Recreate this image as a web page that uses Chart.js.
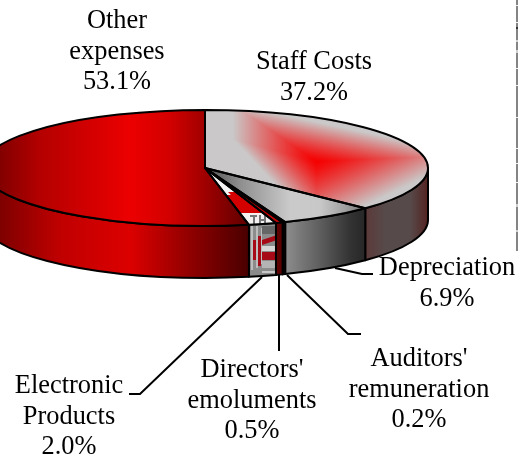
<!DOCTYPE html>
<html><head><meta charset="utf-8">
<style>html,body{margin:0;padding:0;background:#fff;overflow:hidden}canvas{display:block}</style>
<script src="https://cdn.jsdelivr.net/npm/chart.js@4"></script>
</head><body><canvas id="c" width="518" height="457"></canvas>
<script>
// ---- data ----
const categories = ["Staff Costs","Depreciation","Auditors' remuneration","Directors' emoluments","Electronic Products","Other expenses"];
const shares = [37.2,6.9,0.2,0.5,2.0,53.1];

// ---- geometry of the tilted pie ----
const W=518,H=457,CX=205,CY=168,RX=223,RY=58,DEPTH=52;
const K=RY/RX;

// ---- label layout, same order as categories ----
const labelLines=[["Staff Costs"],["Depreciation"],["Auditors'","remuneration"],["Directors'","emoluments"],["Electronic","Products"],["Other","expenses"]];
const labelX=[314,447,419,252,69,117];
const labelY=[69,275,366,377,393,28];
const leaders=[null,
 [[335,268],[362,274],[373,274]],
 [[287,275],[348,334],[361,334]],
 [[279,275],[279,351]],
 [[262,277],[140,394],[129,394]],
 null];

const canvas=document.getElementById('c');
const ctx=canvas.getContext('2d');

function hGrad(stops){
  const xs=stops.map(s=>s[0]);const x0=xs[0],x1=xs[xs.length-1];
  const g=ctx.createLinearGradient(x0,0,x1,0);
  stops.forEach(s=>g.addColorStop((s[0]-x0)/(x1-x0),s[1]));
  return g;
}
function screenPattern(cv){
  return ctx.createPattern(cv,'no-repeat');
}
function squashPattern(cv){
  // the faces are filled under the squash, so undo it to keep the texture in page pixels
  const p=ctx.createPattern(cv,'no-repeat');
  p.setTransform(new DOMMatrix([1,0,0,1/K,0,CY-CY/K]));
  return p;
}
function staffTexture(){
  const cv=document.createElement('canvas');cv.width=W;cv.height=H;
  const c=cv.getContext('2d');const im=c.createImageData(W,H);
  const P=[316,161],A=[186,92],B=[480,154],D=[316,232];
  const edges=[[A,B],[B,D],[D,A]].map(([u,v])=>{
    let nx=v[1]-u[1],ny=u[0]-v[0];const L=Math.hypot(nx,ny);nx/=L;ny/=L;
    let d=(u[0]-P[0])*nx+(u[1]-P[1])*ny;
    if(d<0){nx=-nx;ny=-ny;d=-d;}
    return [nx,ny,d];
  });
  for(let y=0;y<H;y++)for(let x=0;x<W;x++){
    let t=(P[0]-x)/88;
    for(const e of edges){t=Math.max(t,((x-P[0])*e[0]+(y-P[1])*e[1])/e[2]);}
    t=Math.min(1,Math.max(0,t/0.95));
    t=Math.pow(t,1.2);
    const i=(y*W+x)*4;
    im.data[i]=246+(202-246)*t;im.data[i+1]=0+200*t;im.data[i+2]=0+200*t;im.data[i+3]=255;
  }
  c.putImageData(im,0,0);return cv;
}
function electronicTexture(){
  const cv=document.createElement('canvas');cv.width=W;cv.height=H;
  const c=cv.getContext('2d');
  // top face
  c.fillStyle='#8a0000';c.fillRect(200,160,90,35);
  c.fillStyle='#f4f4f4';c.fillRect(205,172,40,23);
  c.strokeStyle='#b0b0b0';c.lineWidth=5;c.beginPath();c.moveTo(228,200);c.lineTo(244,186);c.stroke();
  c.fillStyle='#d40000';c.fillRect(220,195,70,18);
  c.fillStyle='#d40000';c.beginPath();c.moveTo(228,192);c.lineTo(260,192);c.lineTo(260,200);c.lineTo(236,200);c.fill();
  c.fillStyle='#f4f0f0';c.fillRect(235,213,50,13);
  c.fillStyle='#777';
  [[250,215,7,2],[253,215,2,9],[259,215,2,9],[264,215,2,9],[259,219,7,2],[268,216,6,2]].forEach(r=>c.fillRect(...r));
  // side wall
  c.fillStyle='#8c8c8c';c.fillRect(245,224,35,56);
  c.fillStyle='#bdbdbd';c.fillRect(251,226,2,46);c.fillRect(256,226,2,42);c.fillRect(261,228,1,36);
  c.fillStyle='#d6d6d6';c.fillRect(262,246,15,5);
  c.fillStyle='#a60a16';c.fillRect(253,240,3,20);c.fillRect(258,236,3,30);c.fillRect(262,252,15,8);
  c.beginPath();c.moveTo(262,240);c.lineTo(277,235);c.lineTo(277,240);c.lineTo(262,245);c.fill();
  c.fillStyle='#666';c.fillRect(262,226,14,8);
  c.fillStyle='#b4b4b4';c.fillRect(262,261,14,7);
  c.fillStyle='#8a8a8a';c.fillRect(250,270,26,8);
  c.fillStyle='#c8c8c8';c.fillRect(262,271,14,2);
  return cv;
}
const eTex=electronicTexture();
const faceFills=[
  squashPattern(staffTexture()),
  hGrad([[205,'#505050'],[240,'#8e8e8e'],[290,'#cacaca'],[320,'#c8c8c8'],[345,'#a0a0a0'],[367,'#707070']]),
  '#5a0000',
  '#c20000',
  squashPattern(eTex),
  hGrad([[-18,'#6c0000'],[40,'#b40000'],[130,'#ec0000'],[170,'#d20000'],[205,'#a00000'],[250,'#5c0000']])
];
const wallFills=[
  hGrad([[366,'#5c3a3a'],[385,'#574a4a'],[410,'#574a4a'],[429,'#552020']]),
  hGrad([[286,'#8c8c8c'],[320,'#5e5e5e'],[350,'#333333'],[366,'#262626']]),
  '#0a0000',
  '#5c0000',
  screenPattern(eTex),
  hGrad([[-18,'#6a0000'],[60,'#c00000'],[130,'#dc0000'],[190,'#900000'],[250,'#480000']])
];

const tiltedPie={
  id:'tiltedPie',
  beforeDatasetsDraw(chart){
    const c=chart.ctx,arcs=chart.getDatasetMeta(0).data;
    c.save();c.lineWidth=2;c.strokeStyle='#000';c.lineJoin='round';
    arcs.forEach((a,i)=>{
      const s=Math.max(a.startAngle,0),e=Math.min(a.endAngle,Math.PI);
      if(e<=s)return;
      const rx=a.outerRadius,ry=rx*K;
      c.beginPath();
      c.ellipse(a.x,a.y,rx,ry,0,s,e);
      c.ellipse(a.x,a.y+DEPTH,rx,ry,0,e,s,true);
      c.closePath();
      c.fillStyle=wallFills[i];c.fill();c.stroke();
    });
    c.restore();
    const a0=arcs[0];
    c.save();
    c.translate(0,a0.y);c.scale(1,K);c.translate(0,-a0.y);
  },
  afterDatasetsDraw(chart){
    const c=chart.ctx,arcs=chart.getDatasetMeta(0).data;
    c.restore();
    c.save();c.lineWidth=2;c.strokeStyle='#000';c.lineJoin='round';
    arcs.forEach(a=>{
      c.beginPath();c.moveTo(a.x,a.y);
      c.ellipse(a.x,a.y,a.outerRadius,a.outerRadius*K,0,a.startAngle,a.endAngle);
      c.closePath();c.stroke();
    });
    c.restore();
  },
  afterDraw(chart){
    const c=chart.ctx;
    c.save();
    // page edge rule at the far right
    c.fillStyle='#848484';c.fillRect(516,0,2,251);
    c.fillStyle='#f2f2f2';
    [5,22,68,85,117,148,163,182].forEach(y=>c.fillRect(516,y,2,1));
    c.fillStyle='#d0d0d0';[40,41,50,51,52,204,205,206,230,231].forEach(y=>c.fillRect(516,y,2,1));
    c.fillStyle='#333';c.fillRect(516,27,2,2);
    // leader lines
    c.strokeStyle='#000';c.lineWidth=2;c.lineJoin='miter';
    leaders.forEach(l=>{
      if(!l)return;
      c.beginPath();l.forEach((p,i)=>i?c.lineTo(p[0],p[1]):c.moveTo(p[0],p[1]));c.stroke();
    });
    // labels
    c.fillStyle='#000';c.textAlign='center';c.textBaseline='alphabetic';
    c.font='26.4px "Liberation Serif"';
    categories.forEach((n,i)=>{
      const lines=[...labelLines[i],shares[i].toFixed(1)+'%'];
      lines.forEach((t,j)=>c.fillText(t,labelX[i],labelY[i]+Math.round(j*30.5)));
    });
    c.restore();
  }
};

new Chart(ctx,{
  type:'pie',
  data:{labels:categories,datasets:[{data:shares,backgroundColor:faceFills,borderWidth:0,radius:RX,hoverOffset:0,clip:false}]},
  options:{
    responsive:false,animation:false,events:[],
    layout:{padding:{left:0,top:0,right:W-2*CX,bottom:H-2*CY}},
    plugins:{legend:{display:false},tooltip:{enabled:false},title:{display:false}}
  },
  plugins:[tiltedPie]
});
</script></body></html>
